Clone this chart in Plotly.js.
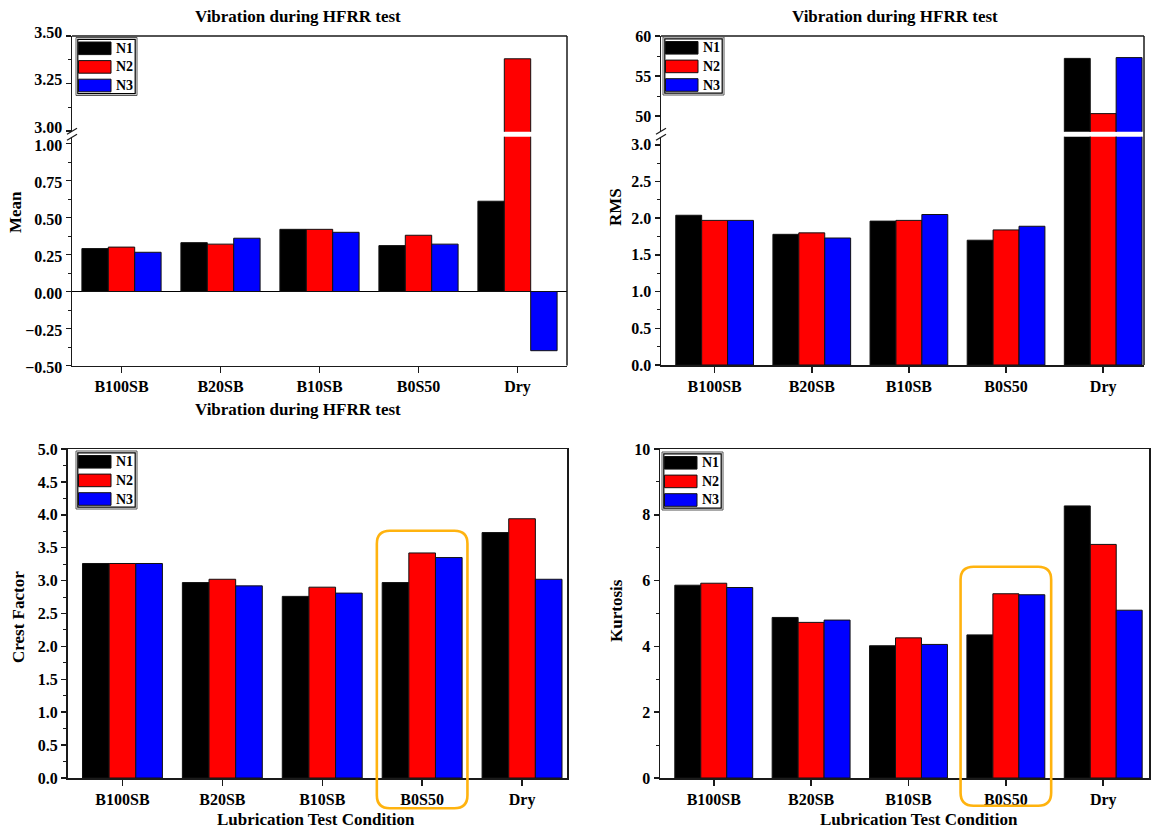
<!DOCTYPE html>
<html>
<head>
<meta charset="utf-8">
<script src="https://cdn.plot.ly/plotly-3.0.1.min.js"></script>
<style>
  html, body { margin: 0; padding: 0; background: #fff; }
  #chart { width: 1159px; height: 829px; }
</style>
</head>
<body>
<div id="chart"></div>
<script>
// ---- data -------------------------------------------------------------
const conditions = ['B100SB', 'B20SB', 'B10SB', 'B0S50', 'Dry'];
const seriesNames = ['N1', 'N2', 'N3'];
const seriesColors = ['#000000', '#FF0000', '#0000FF'];

const meanN1 = [0.29, 0.33, 0.42, 0.31, 0.61];
const meanN2 = [0.30, 0.32, 0.42, 0.38, 3.38];
const meanN3 = [0.265, 0.36, 0.40, 0.32, -0.40];

const rmsN1 = [2.04, 1.78, 1.96, 1.70, 57.2];
const rmsN2 = [1.97, 1.80, 1.97, 1.84, 50.3];
const rmsN3 = [1.97, 1.73, 2.05, 1.89, 57.3];

const crestN1 = [3.26, 2.97, 2.76, 2.97, 3.73];
const crestN2 = [3.26, 3.02, 2.90, 3.42, 3.94];
const crestN3 = [3.26, 2.92, 2.81, 3.35, 3.02];

const kurtN1 = [5.86, 4.88, 4.02, 4.35, 8.27];
const kurtN2 = [5.92, 4.73, 4.26, 5.60, 7.10];
const kurtN3 = [5.79, 4.80, 4.06, 5.57, 5.10];

const highlighted = 'B0S50';
const panelTitle = 'Vibration during HFRR test';
const xTitle = 'Lubrication Test Condition';

// ---- page geometry (pixels -> paper fractions) ------------------------
const W = 1159, H = 829;
const px = v => v / W;
const py = v => 1 - v / H;
const xdom = (l, r) => [px(l), px(r)];
const ydom = (top, bottom) => [py(bottom), py(top)];

const FONT = 'Liberation Serif, Times New Roman, serif';
const INK = '#1a1a1a';
const tickFont = { family: FONT, size: 16, color: '#000', weight: 'bold' };

// ---- traces -----------------------------------------------------------
function bars(seriesList, xa, ya) {
  return seriesList.map((vals, i) => ({
    type: 'bar',
    name: seriesNames[i],
    x: conditions,
    y: vals,
    xaxis: xa,
    yaxis: ya,
    marker: { color: seriesColors[i], line: { color: '#111', width: 1 } },
    showlegend: false
  }));
}

const meanSeries = [meanN1, meanN2, meanN3];
const rmsSeries = [rmsN1, rmsN2, rmsN3];
const crestSeries = [crestN1, crestN2, crestN3];
const kurtSeries = [kurtN1, kurtN2, kurtN3];

const data = [
  ...bars(meanSeries, 'x', 'y'),     // mean, lower segment
  ...bars(meanSeries, 'x', 'y2'),    // mean, upper segment
  ...bars(rmsSeries, 'x2', 'y3'),    // rms, lower segment
  ...bars(rmsSeries, 'x2', 'y4'),    // rms, upper segment
  ...bars(crestSeries, 'x3', 'y5'),
  ...bars(kurtSeries, 'x4', 'y6')
];

// ---- axes -------------------------------------------------------------
function xAxis(l, r, range, anchor, mirror) {
  return {
    domain: xdom(l, r), range, anchor,
    type: 'category', categoryorder: 'array', categoryarray: conditions,
    showline: true, linecolor: INK, linewidth: 1.5, mirror: mirror,
    ticks: 'outside', ticklen: 6, tickwidth: 1.5, tickcolor: INK,
    tickfont: tickFont, showgrid: false, zeroline: false, fixedrange: true
  };
}
function yAxis(top, bottom, range, anchor, dtick, tick0, minor, fmt, mirror, zero, shift) {
  return {
    domain: ydom(top, bottom), range, anchor,
    showline: true, linecolor: INK, linewidth: 1.5, mirror: mirror,
    ticks: 'outside', ticklen: 5, tickwidth: 1.5, tickcolor: INK,
    dtick, tick0, tickformat: fmt, tickfont: tickFont, ticklabelshift: shift || 0,
    minor: { dtick: minor, ticks: 'outside', ticklen: 3, tickwidth: 1, tickcolor: INK, showgrid: false },
    showgrid: false, zeroline: !!zero, zerolinecolor: '#000', zerolinewidth: 1.2,
    fixedrange: true
  };
}

const P = {
  tl: { l: 72, r: 567, top: 36, bottom: 365.5, breakTop: 131.7, breakBottom: 136.7, range: [-0.5, 4.5] },
  tr: { l: 661, r: 1144, top: 36, bottom: 365, breakTop: 131.7, breakBottom: 136.7, range: [-0.552, 4.42] },
  bl: { l: 67.5, r: 567, top: 449, bottom: 778, range: [-0.55, 4.45] },
  br: { l: 660, r: 1149, top: 449, bottom: 778, range: [-0.552, 4.47] }
};

const layout = {
  width: W, height: H,
  margin: { l: 0, r: 0, t: 0, b: 0 },
  paper_bgcolor: '#fff', plot_bgcolor: 'rgba(0,0,0,0)',
  showlegend: false,
  barmode: 'group', bargap: 0.2, bargroupgap: 0,
  font: { family: FONT, color: '#000' },

  xaxis: xAxis(P.tl.l, P.tl.r, P.tl.range, 'y', false),
  yaxis: yAxis(P.tl.breakBottom, P.tl.bottom, [-0.5, 1.046], 'x', 0.25, 0, 0.125, '.2f', false, true, 2),
  yaxis2: yAxis(P.tl.top, P.tl.breakTop, [2.996, 3.5], 'x', 0.25, 3, 0.125, '.2f', false, false, -4),

  xaxis2: xAxis(P.tr.l, P.tr.r, P.tr.range, 'y3', false),
  yaxis3: yAxis(P.tr.breakBottom, P.tr.bottom, [0, 3.11], 'x2', 0.5, 0, 0.25, '.1f', false, false),
  yaxis4: yAxis(P.tr.top, P.tr.breakTop, [48.04, 60], 'x2', 5, 0, 2.5, 'd', false, false),

  xaxis3: xAxis(P.bl.l, P.bl.r, P.bl.range, 'y5', true),
  yaxis5: yAxis(P.bl.top, P.bl.bottom, [0, 5], 'x3', 0.5, 0, 0.25, '.1f', true, false),

  xaxis4: xAxis(P.br.l, P.br.r, P.br.range, 'y6', true),
  yaxis6: yAxis(P.br.top, P.br.bottom, [0, 10], 'x4', 2, 0, 1, 'd', true, false),

  shapes: [],
  annotations: []
};

// ---- frame pieces for the broken-axis panels --------------------------
function line(x0, y0, x1, y1, color, width) {
  return { type: 'line', xref: 'paper', yref: 'paper', x0: px(x0), y0: py(y0), x1: px(x1), y1: py(y1),
           line: { color: color, width: width }, layer: 'above' };
}
[P.tl, P.tr].forEach(p => {
  layout.shapes.push(line(p.l, p.top, p.r, p.top, INK, 1.5));
  layout.shapes.push(line(p.r, p.top, p.r, p.bottom, INK, 1.5));
  // break marks on the value axis
  layout.shapes.push(line(p.l - 5, p.breakTop + 2.5, p.l + 5, p.breakTop - 3.5, INK, 1.2));
  layout.shapes.push(line(p.l - 5, p.breakBottom + 3.5, p.l + 5, p.breakBottom - 2.5, INK, 1.2));
});

// ---- per-panel legends -------------------------------------------------
function addLegend(x, y) {
  const w = 61, h = 58;
  layout.shapes.push({ type: 'rect', xref: 'paper', yref: 'paper', x0: px(x), y0: py(y + h), x1: px(x + w), y1: py(y),
                       line: { color: '#555', width: 1 }, fillcolor: '#fff', layer: 'above' });
  layout.shapes.push({ type: 'rect', xref: 'paper', yref: 'paper', x0: px(x + 1.8), y0: py(y + h - 1.8), x1: px(x + w - 1.8), y1: py(y + 1.8),
                       line: { color: '#000', width: 1.2 }, layer: 'above' });
  seriesNames.forEach((name, i) => {
    const top = y + 4.5 + i * 18.6, bottom = top + 12.6;
    layout.shapes.push({ type: 'rect', xref: 'paper', yref: 'paper', x0: px(x + 2.5), y0: py(bottom), x1: px(x + 35), y1: py(top),
                         fillcolor: seriesColors[i], line: { color: '#111', width: 1 }, layer: 'above' });
    layout.annotations.push({ xref: 'paper', yref: 'paper', x: px(x + 37.5), y: py((top + bottom) / 2),
                              xanchor: 'left', yanchor: 'middle', showarrow: false, text: name,
                              font: { family: FONT, size: 14, color: '#000', weight: 'bold' } });
  });
}
addLegend(76, 37.5);
addLegend(663, 37);
addLegend(76, 451);
addLegend(662, 452);

// ---- texts -------------------------------------------------------------
const titleFont = { family: FONT, size: 17, color: '#000', weight: 'bold' };
function text(x, y, t, angle) {
  layout.annotations.push({ xref: 'paper', yref: 'paper', x: px(x), y: py(y), xanchor: 'center', yanchor: 'middle',
                            showarrow: false, text: t, textangle: angle || 0, font: titleFont });
}
text(298, 16, panelTitle);
text(895, 17, panelTitle);
text(298, 409, panelTitle);
text(316, 819, xTitle);
text(919, 819, xTitle);
text(15, 212, 'Mean', -90);
text(615, 207, 'RMS', -90);
text(18, 617, 'Crest Factor', -90);
text(616, 611, 'Kurtosis', -90);

// ---- highlight around one condition in the lower panels -----------------
function catToPx(p, idx) {
  return p.l + (idx - p.range[0]) / (p.range[1] - p.range[0]) * (p.r - p.l);
}
function roundRect(x0, y0, x1, y1, r) {
  const X = v => px(v).toFixed(5), Y = v => py(v).toFixed(5);
  return 'M' + X(x0 + r) + ',' + Y(y0) +
         ' L' + X(x1 - r) + ',' + Y(y0) + ' Q' + X(x1) + ',' + Y(y0) + ' ' + X(x1) + ',' + Y(y0 + r) +
         ' L' + X(x1) + ',' + Y(y1 - r) + ' Q' + X(x1) + ',' + Y(y1) + ' ' + X(x1 - r) + ',' + Y(y1) +
         ' L' + X(x0 + r) + ',' + Y(y1) + ' Q' + X(x0) + ',' + Y(y1) + ' ' + X(x0) + ',' + Y(y1 - r) +
         ' L' + X(x0) + ',' + Y(y0 + r) + ' Q' + X(x0) + ',' + Y(y0) + ' ' + X(x0 + r) + ',' + Y(y0) + ' Z';
}
const hIdx = conditions.indexOf(highlighted);
[[P.bl, 530.7, 808.3], [P.br, 566.7, 805.7]].forEach(([p, top, bottom]) => {
  const c = catToPx(p, hIdx);
  const half = 45.3;
  layout.shapes.push({ type: 'path', xref: 'paper', yref: 'paper', path: roundRect(c - half, top, c + half, bottom, 13),
                       line: { color: '#FFB30F', width: 2.6 }, fillcolor: 'rgba(0,0,0,0)', layer: 'above' });
});

Plotly.newPlot('chart', data, layout, { staticPlot: true, displayModeBar: false });
</script>
</body>
</html>
